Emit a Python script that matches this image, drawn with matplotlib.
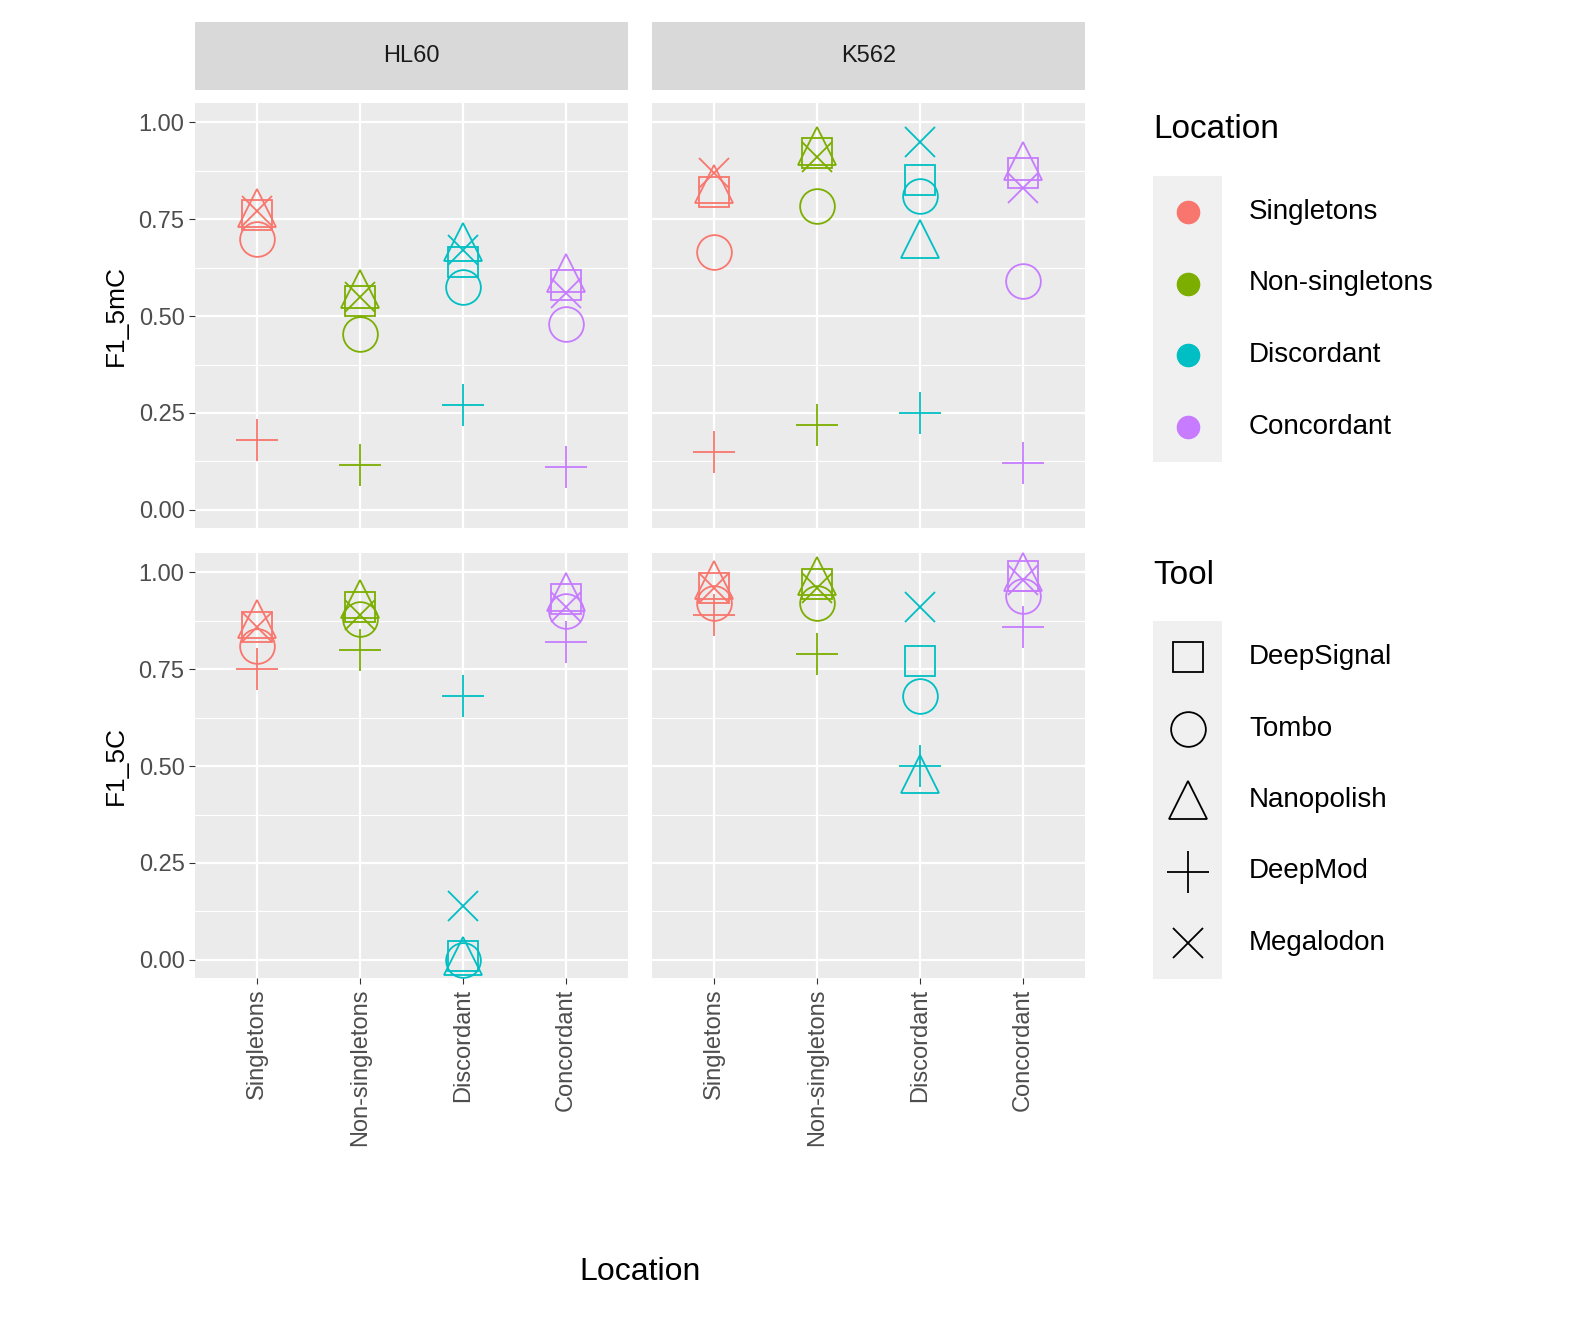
import numpy as np
import matplotlib.pyplot as plt
from matplotlib.patches import Rectangle

plt.rcParams['font.family'] = ['Liberation Sans', 'DejaVu Sans']

locations = ["Singletons", "Non-singletons", "Discordant", "Concordant"]
loc_colors = ["#F8766D", "#7CAE00", "#00BFC4", "#C77CFF"]
tools = ["DeepSignal", "Tombo", "Nanopolish", "DeepMod", "Megalodon"]
tool_markers = ["s", "o", "^", "+", "x"]
cells = ["HL60", "K562"]
metrics = ["F1_5mC", "F1_5C"]

# values[metric][cell][tool] -> per location
values = {
    "F1_5mC": {
        "HL60": {"DeepSignal": [0.76, 0.54, 0.64, 0.58],
                 "Tombo": [0.70, 0.455, 0.575, 0.48],
                 "Nanopolish": [0.78, 0.57, 0.69, 0.61],
                 "DeepMod": [0.18, 0.115, 0.27, 0.11],
                 "Megalodon": [0.77, 0.55, 0.67, 0.56]},
        "K562": {"DeepSignal": [0.82, 0.92, 0.85, 0.87],
                 "Tombo": [0.665, 0.785, 0.81, 0.59],
                 "Nanopolish": [0.84, 0.94, 0.70, 0.90],
                 "DeepMod": [0.15, 0.22, 0.25, 0.12],
                 "Megalodon": [0.87, 0.91, 0.95, 0.83]},
    },
    "F1_5C": {
        "HL60": {"DeepSignal": [0.86, 0.91, 0.01, 0.93],
                 "Tombo": [0.81, 0.88, 0.00, 0.90],
                 "Nanopolish": [0.88, 0.93, 0.01, 0.95],
                 "DeepMod": [0.75, 0.80, 0.68, 0.82],
                 "Megalodon": [0.86, 0.89, 0.14, 0.91]},
        "K562": {"DeepSignal": [0.96, 0.97, 0.77, 0.99],
                 "Tombo": [0.92, 0.92, 0.68, 0.94],
                 "Nanopolish": [0.98, 0.99, 0.48, 1.00],
                 "DeepMod": [0.89, 0.79, 0.50, 0.86],
                 "Megalodon": [0.96, 0.96, 0.91, 0.98]},
    },
}

W, H = 1585, 1332
fig = plt.figure(figsize=(W / 100, H / 100), dpi=100)

def fr(x0, y0, x1, y1):
    return [x0 / W, 1 - y1 / H, (x1 - x0) / W, (y1 - y0) / H]

panel_x = [(195, 628), (652, 1085)]
panel_y = [(103, 528), (553, 978)]
grey = "#4D4D4D"
MS = {"s": 22, "o": 25, "^": 27, "+": 30, "x": 22}

def draw(ax, x, y, mk, col):
    if mk in ("+", "x"):
        ax.plot(x, y, marker=mk, ms=MS[mk], mew=1.3, color=col, ls="none", clip_on=False)
    else:
        ax.plot(x, y, marker=mk, ms=MS[mk], mfc="none", mew=1.3, mec=col, ls="none", clip_on=False)

for r, metric in enumerate(metrics):
    for c, cell in enumerate(cells):
        ax = fig.add_axes(fr(panel_x[c][0], panel_y[r][0], panel_x[c][1], panel_y[r][1]))
        ax.set_facecolor("#EBEBEB")
        ax.set_xlim(0.4, 4.6)
        ax.set_ylim(-0.047, 1.05)
        ax.set_yticks([0, 0.25, 0.5, 0.75, 1.0])
        ax.set_yticks([0.125, 0.375, 0.625, 0.875], minor=True)
        ax.set_xticks(range(1, 5))
        ax.grid(which="major", color="white", lw=1.6)
        ax.grid(which="minor", axis="y", color="white", lw=0.8)
        ax.set_axisbelow(True)
        for s in ax.spines.values():
            s.set_visible(False)
        ax.tick_params(which="both", length=4, color="#333333", labelsize=17, labelcolor=grey)
        ax.tick_params(which="minor", length=0)
        if c == 0:
            ax.set_yticklabels(["0.00", "0.25", "0.50", "0.75", "1.00"])
            ax.set_ylabel(metric, fontsize=19, labelpad=8)
        else:
            ax.set_yticklabels([])
            ax.tick_params(axis="y", length=0)
        if r == 1:
            ax.set_xticklabels(locations, rotation=90, fontsize=17)
        else:
            ax.set_xticklabels([])
            ax.tick_params(axis="x", length=0)
        xs = np.arange(1, 5)
        for tool, mk in zip(tools, tool_markers):
            ys = values[metric][cell][tool]
            for x, y, col in zip(xs, ys, loc_colors):
                draw(ax, x, y, mk, col)
        if r == 0:
            sax = fig.add_axes(fr(panel_x[c][0], 22, panel_x[c][1], 90))
            sax.set_facecolor("#D9D9D9")
            sax.set_xticks([]); sax.set_yticks([])
            for s in sax.spines.values():
                s.set_visible(False)
            sax.text(0.5, 0.5, cell, ha="center", va="center", fontsize=17, color="#1A1A1A")

fig.text(640 / W, 1 - 1272 / H, "Location", ha="center", va="center", fontsize=23)

# legends
lax = fig.add_axes([0, 0, 1, 1])
lax.set_xlim(0, W); lax.set_ylim(H, 0); lax.axis("off")
lax.text(1153, 130, "Location", fontsize=24, va="center")
for i, (loc, col) in enumerate(zip(locations, loc_colors)):
    yc = 212 + i * 71.5
    lax.add_patch(Rectangle((1153, yc - 35.7), 69, 71.5, color="#F0F0F0", lw=0))
    lax.plot(1188, yc, "o", ms=16, color=col)
    lax.text(1249, yc, loc, fontsize=20, va="center")
lax.text(1153, 576, "Tool", fontsize=24, va="center")
for i, (tool, mk) in enumerate(zip(tools, tool_markers)):
    yc = 657 + i * 71.5
    lax.add_patch(Rectangle((1153, yc - 35.7), 69, 71.5, color="#F0F0F0", lw=0))
    draw(lax, 1188, yc, mk, "black")
    lax.text(1249, yc, tool, fontsize=20, va="center")

fig.savefig("out.png", dpi=100)
